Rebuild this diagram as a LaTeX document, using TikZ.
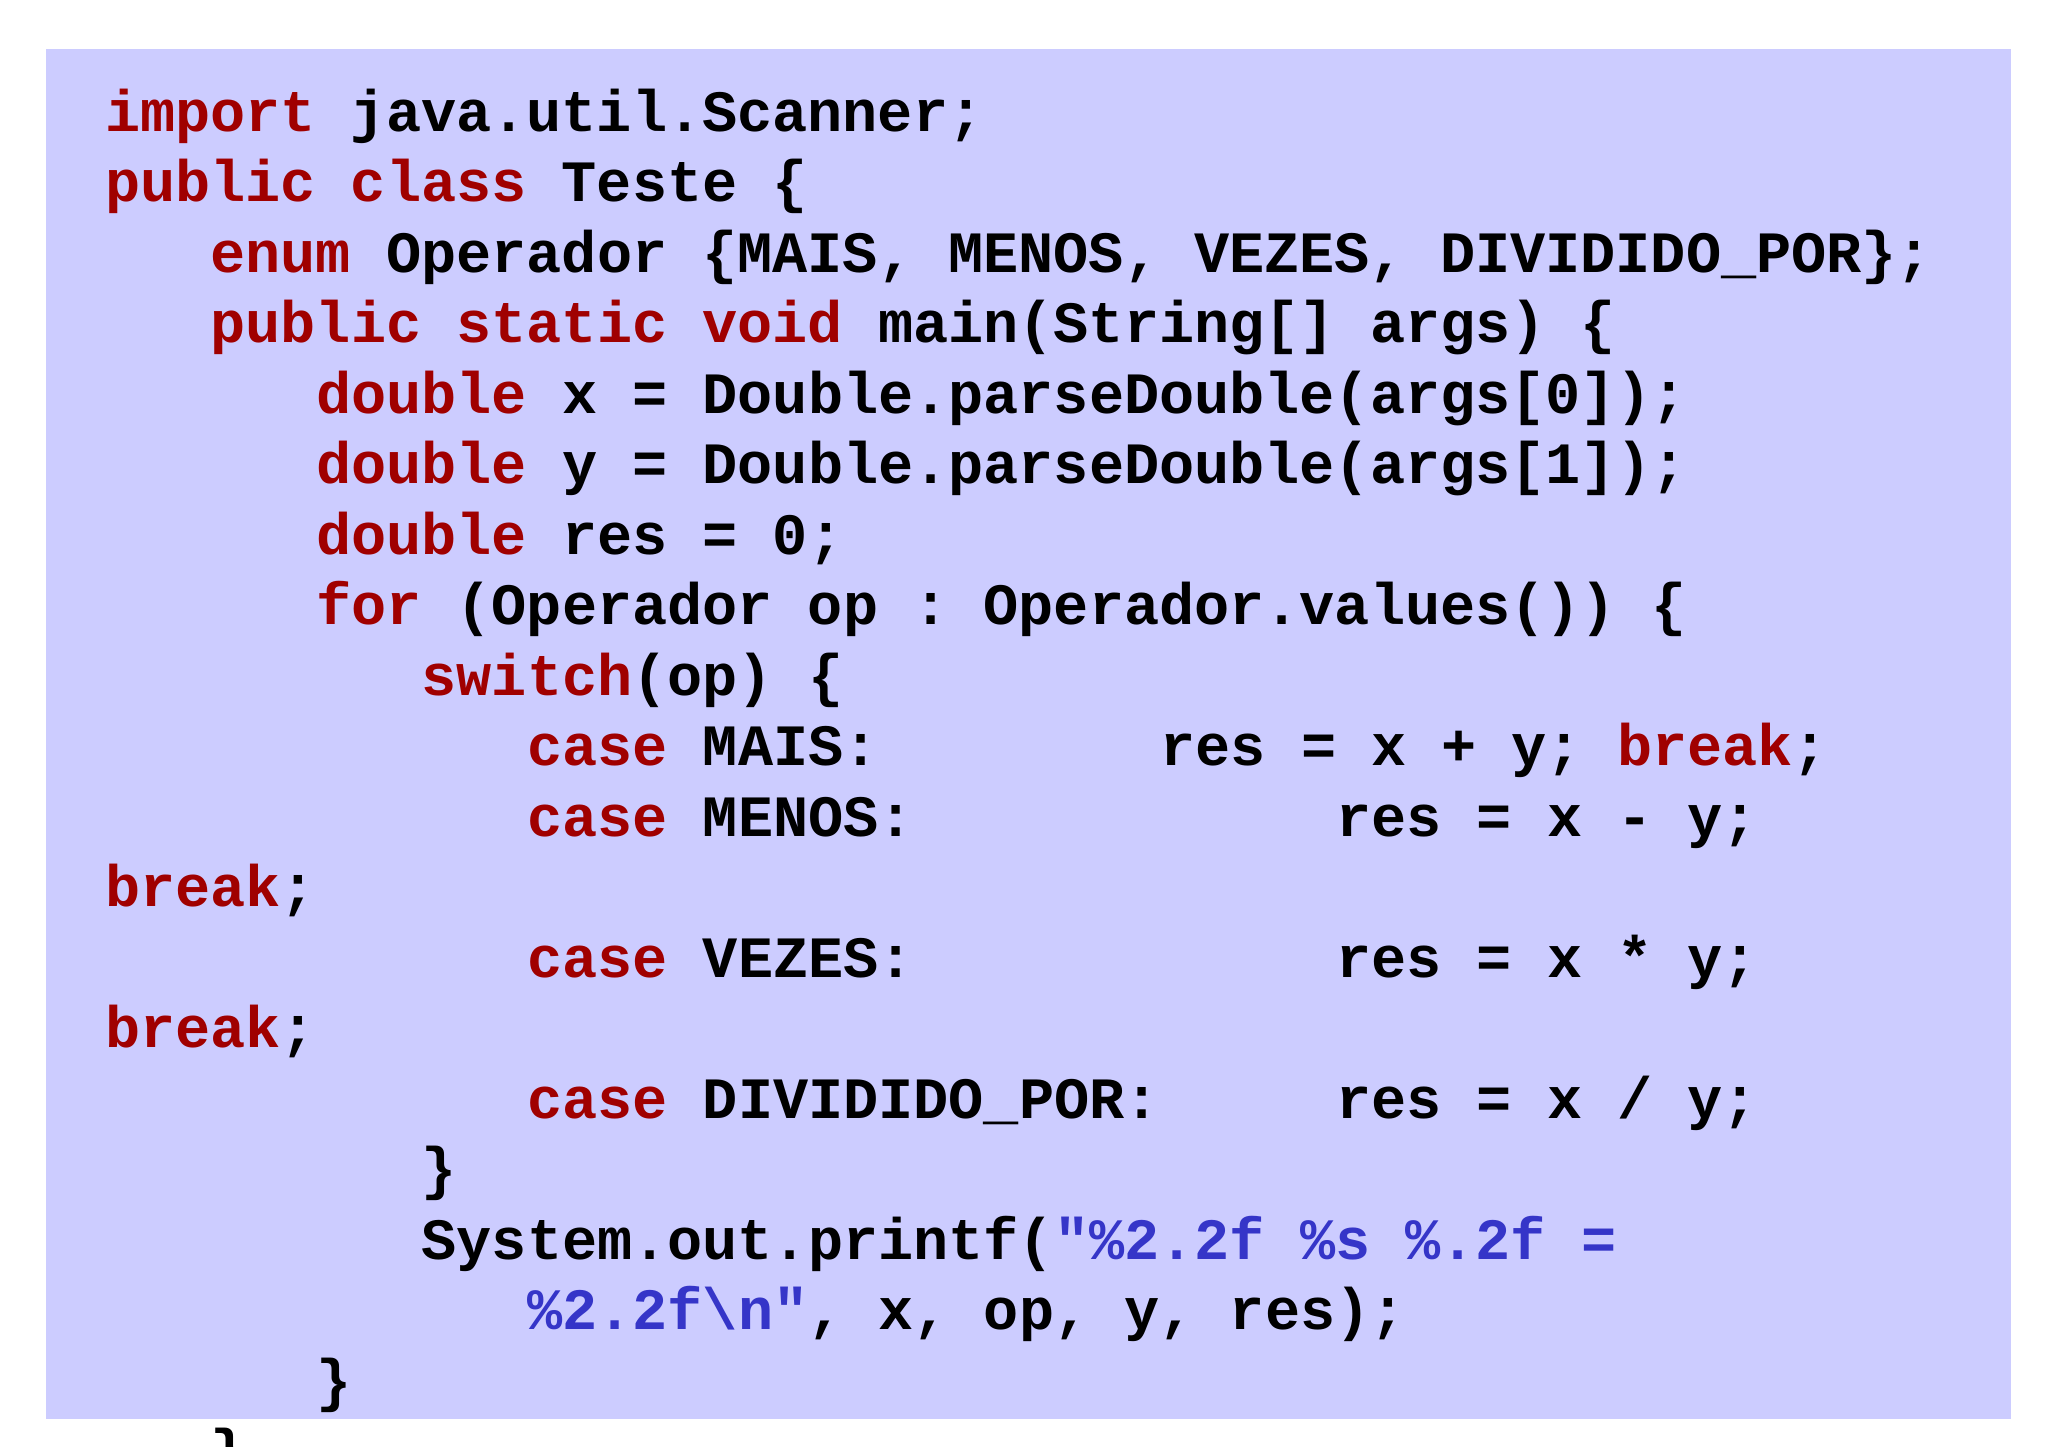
\documentclass[tikz,border=0pt]{standalone}
\usepackage{fontspec}
\setmonofont{Liberation Mono}
\definecolor{kwred}{HTML}{A00000}
\definecolor{strblue}{HTML}{3535C8}
\definecolor{bgl}{HTML}{CCCCFF}
\newcommand{\kw}[1]{\textcolor{kwred}{#1}}
\newcommand{\st}[1]{\textcolor{strblue}{#1}}
\begin{document}
\begin{tikzpicture}[x=0.5pt,y=-0.5pt,
  code/.style={anchor=base west,inner sep=0pt,outer sep=0pt,font=\ttfamily\bfseries\fontsize{22.3}{26}\selectfont}]
\useasboundingbox (0,0) rectangle (1560,1102);
\clip (0,0) rectangle (1560,1102);
\fill[bgl] (35,37) rectangle (1532,1081);
\newcommand{\cl}[4]{\node[code] (#1) at ({80+#3*26.8},{100+#2*53.7}) {#4};}
\cl{l0}{0}{0}{\kw{import} java.util.Scanner;}
\cl{l1}{1}{0}{\kw{public class} Teste \{}
\cl{l2}{2}{3}{\kw{enum} Operador \{MAIS, MENOS, VEZES, DIVIDIDO\_POR\};}
\cl{l3}{3}{3}{\kw{public static void} main(String[] args) \{}
\cl{l4}{4}{6}{\kw{double} x = Double.parseDouble(args[0]);}
\cl{l5}{5}{6}{\kw{double} y = Double.parseDouble(args[1]);}
\cl{l6}{6}{6}{\kw{double} res = 0;}
\cl{l7}{7}{6}{\kw{for} (Operador op : Operador.values()) \{}
\cl{l8}{8}{9}{\kw{switch}(op) \{}
\cl{l9a}{9}{12}{\kw{case} MAIS:}
\cl{l9b}{9}{30}{res = x + y; \kw{break};}
\cl{l10a}{10}{12}{\kw{case} MENOS:}
\cl{l10b}{10}{35}{res = x - y;}
\cl{l11}{11}{0}{\kw{break};}
\cl{l12a}{12}{12}{\kw{case} VEZES:}
\cl{l12b}{12}{35}{res = x * y;}
\cl{l13}{13}{0}{\kw{break};}
\cl{l14a}{14}{12}{\kw{case} DIVIDIDO\_POR:}
\cl{l14b}{14}{35}{res = x / y;}
\cl{l15}{15}{9}{\}}
\cl{l16}{16}{9}{System.out.printf(\st{"\%2.2f \%s \%.2f =}}
\cl{l17}{17}{12}{\st{\%2.2f\textbackslash n"}, x, op, y, res);}
\cl{l18}{18}{6}{\}}
\cl{l19}{19}{3}{\}}
\end{tikzpicture}
\end{document}
